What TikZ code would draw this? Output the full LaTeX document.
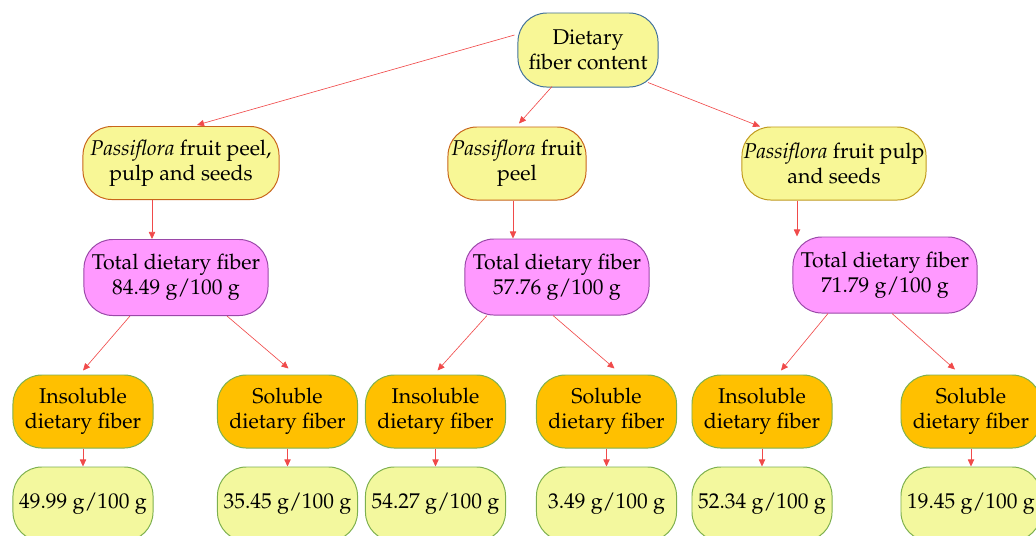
\documentclass[tikz,border=0pt]{standalone}
\usepackage[T1]{fontenc}
\usepackage{mathpazo}
\usetikzlibrary{arrows.meta,calc}

\definecolor{rootline}{HTML}{41719C}
\definecolor{paleyellow}{HTML}{F8F796}
\definecolor{peelline}{HTML}{C8651B}
\definecolor{pulpline}{HTML}{C09A1E}
\definecolor{totalfill}{HTML}{FF99FF}
\definecolor{totalline}{HTML}{9A48A8}
\definecolor{partfill}{HTML}{FFC000}
\definecolor{greenline}{HTML}{7DB04E}
\definecolor{valuefill}{HTML}{F3F89E}
\definecolor{arrowred}{HTML}{F04A4A}

\tikzset{
  fiberbox/.style={rounded corners=0.72cm, draw, line width=0.7pt,
    align=center, inner sep=0pt, font=\fontsize{15.2}{18}\selectfont},
  rootbox/.style={fiberbox, fill=paleyellow, draw=rootline,
    minimum width=3.5cm, minimum height=1.85cm},
  fruitbox/.style={fiberbox, fill=paleyellow, draw=peelline,
    minimum height=1.825cm},
  totalbox/.style={fiberbox, fill=totalfill, draw=totalline,
    minimum width=4.6cm, minimum height=1.9cm},
  partbox/.style={fiberbox, fill=partfill, draw=greenline,
    minimum width=3.5cm, minimum height=1.825cm},
  valuebox/.style={fiberbox, fill=valuefill, draw=greenline,
    minimum width=3.5cm, minimum height=1.85cm},
  fiberarrow/.style={draw=arrowred, line width=0.45pt,
    -{Triangle[length=5pt,width=4.5pt]}}
}

\begin{document}
\begin{tikzpicture}[x=0.025cm,y=-0.025cm]
\useasboundingbox (0,0) rectangle (1036,535);
\clip (0,0) rectangle (1036,535);

% Top node
\node[rootbox] (root) at (588,50) {Dietary\\fiber content};

% Fruit parts
\node[fruitbox, minimum width=4.9cm] (peelall) at (181,163) {\textit{Passiflora} fruit peel,\\pulp and seeds};
\node[fruitbox, minimum width=3.45cm] (peel) at (517,163.5) {\textit{Passiflora} fruit\\peel};
\node[fruitbox, minimum width=4.6cm, draw=pulpline] (pulp) at (834,163.5) {\textit{Passiflora} fruit pulp\\and seeds};

% Total dietary fiber
\node[totalbox] (totalA) at (176,277.5) {Total dietary fiber\\84.49 g/100 g};
\node[totalbox] (totalB) at (557,277) {Total dietary fiber\\57.76 g/100 g};
\node[totalbox] (totalC) at (885,275) {Total dietary fiber\\71.79 g/100 g};

% Insoluble and soluble parts
\node[partbox] (insolA) at (83,411.5) {Insoluble\\dietary fiber};
\node[partbox] (solA) at (287.5,411.5) {Soluble\\dietary fiber};
\node[partbox] (insolB) at (435.5,411.5) {Insoluble\\dietary fiber};
\node[partbox] (solB) at (606.5,411.5) {Soluble\\dietary fiber};
\node[partbox] (insolC) at (762,411.5) {Insoluble\\dietary fiber};
\node[partbox] (solC) at (971,411.5) {Soluble\\dietary fiber};

% Values
\node[valuebox] (valinsolA) at (83,504) {49.99 g/100 g};
\node[valuebox] (valsolA) at (287.5,504) {35.45 g/100 g};
\node[valuebox] (valinsolB) at (435.5,504) {54.27 g/100 g};
\node[valuebox] (valsolB) at (606.5,504) {3.49 g/100 g};
\node[valuebox] (valinsolC) at (762,504) {52.34 g/100 g};
\node[valuebox] (valsolC) at (971,504) {19.45 g/100 g};

% Arrows from the top node
\draw[fiberarrow] ($(root.west)+(-3,-15)$) -- ($(peelall.north)+(16,-1)$);
\draw[fiberarrow] ($(root.south)+(-36,-1)$) -- ($(peel.north)+(2,-3)$);
\draw[fiberarrow] ($(root.south)+(60,-5)$) -- ($(pulp.north)+(-74,0)$);

% Arrows to the totals
\draw[fiberarrow] ($(peelall.south)+(-29,0)$) coordinate (sa) -- (sa |- totalA.north);
\draw[fiberarrow] ($(peel.south)+(-4,0)$) coordinate (sb) -- (sb |- totalB.north);
\draw[fiberarrow] ($(pulp.south)+(-37,0)$) coordinate (sc) -- (sc |- totalC.north);

% Arrows to the parts
\draw[fiberarrow] ($(totalA.south)+(-46,0)$) -- ($(insolA.north)+(0,-4)$);
\draw[fiberarrow] ($(totalA.south)+(51,0)$) -- ($(solA.north)+(1,-6)$);
\draw[fiberarrow] ($(totalB.south)+(-70,0)$) -- ($(insolB.north)+(2,-4)$);
\draw[fiberarrow] ($(totalB.south)+(-4,0)$) -- ($(solB.north)+(8,-6)$);
\draw[fiberarrow] ($(totalC.south)+(-57,0)$) -- ($(insolC.north)+(19,-4)$);
\draw[fiberarrow] ($(totalC.south)+(7,0)$) -- ($(solC.north)+(-16,-5)$);

% Arrows to the values
\foreach \part/\val in {insolA/valinsolA, solA/valsolA, insolB/valinsolB,
                        solB/valsolB, insolC/valinsolC, solC/valsolC}
  \draw[fiberarrow] (\part.south) -- (\val.north);
\end{tikzpicture}
\end{document}
